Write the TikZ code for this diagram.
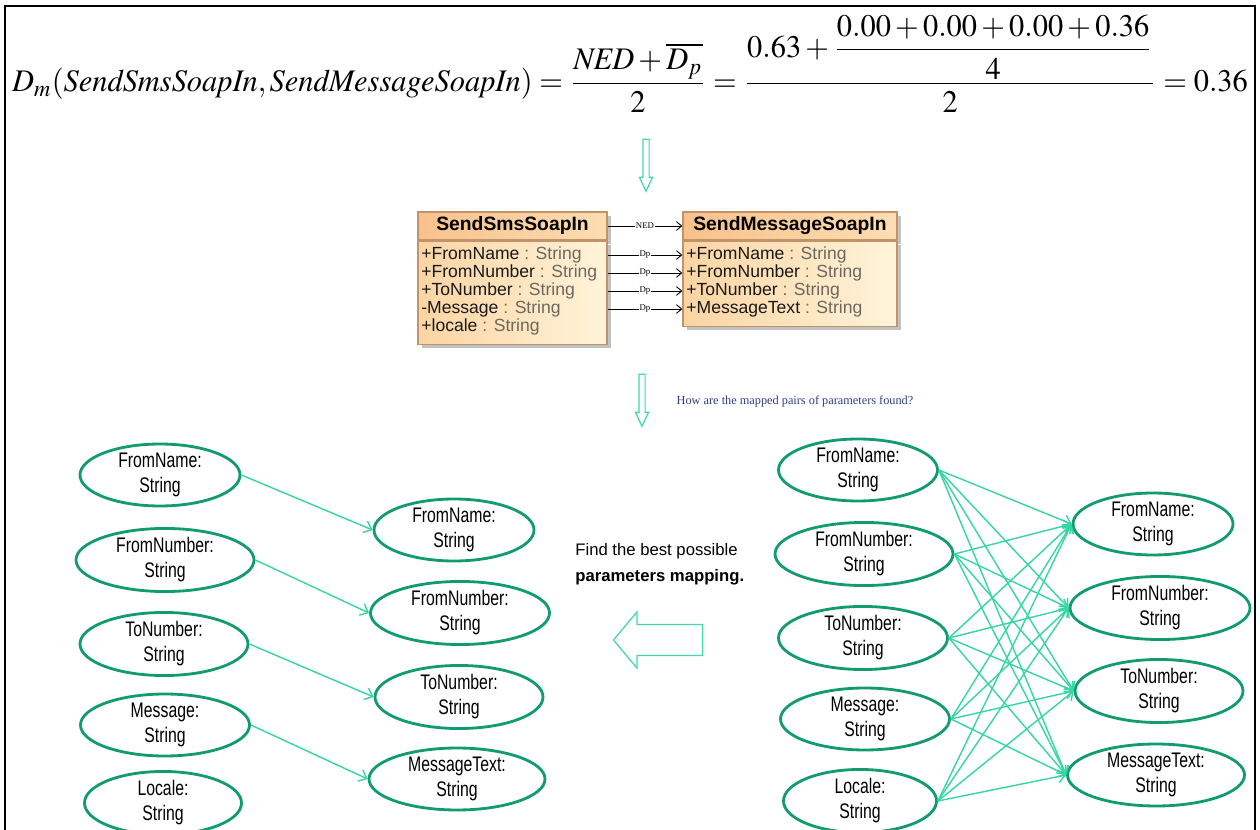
\documentclass[tikz,border=0pt]{standalone}
\usepackage{amsmath}
\usepackage{mathptmx}
\usepackage[no-math]{fontspec}
\usepackage{tikz}
\usetikzlibrary{shapes.geometric,shapes.arrows,shadows,arrows.meta}
\newfontfamily\narrowfont[FakeStretch=0.75]{Liberation Sans}
\newfontfamily\umlfont{Liberation Sans}
\newfontfamily\notefont{Liberation Serif}
\def\px{0.02cm}
\definecolor{paramgreen}{HTML}{129B6F}
\definecolor{mapgreen}{HTML}{35D6A2}
\definecolor{hollowgreen}{HTML}{3FD9A9}
\definecolor{umlborder}{HTML}{C2926A}
\definecolor{umlheadL}{HTML}{F8C18B}
\definecolor{umlheadR}{HTML}{FCDDB2}
\definecolor{umlbodyL}{HTML}{FBD4A2}
\definecolor{umlbodyR}{HTML}{FFF4DA}
\definecolor{umlgray}{HTML}{6E675F}
\definecolor{notecolor}{HTML}{2E3F8A}

\begin{document}
\begin{tikzpicture}[x=\px, y=-\px, >={Straight Barb[length=4pt,width=7pt]}]
    \tikzstyle{param}=[ellipse, draw=paramgreen, line width=1.6pt, minimum height=1.1cm, inner sep=0pt, align=center, font=\narrowfont\fontsize{12}{14.2}\selectfont]
    \tikzstyle{map}=[->, draw=mapgreen, line width=0.8pt]
    \tikzstyle{hollow}=[single arrow, draw=hollowgreen, line width=0.7pt, single arrow head indent=0pt]
    \tikzstyle{umlhead}=[rectangle, draw=umlborder, line width=0.8pt, left color=umlheadL, right color=umlheadR, minimum height=0.56cm, inner sep=0pt, font=\umlfont\bfseries\fontsize{11}{12}\selectfont, drop shadow={shadow xshift=2pt, shadow yshift=-2pt, fill=black!40, opacity=0.6}]
    \tikzstyle{umlbody}=[rectangle, draw=umlborder, line width=0.8pt, left color=umlbodyL, right color=umlbodyR, inner sep=0pt, drop shadow={shadow xshift=2pt, shadow yshift=-2pt, fill=black!40, opacity=0.6}]
    \tikzstyle{member}=[anchor=west, inner sep=0pt, font=\umlfont\fontsize{10}{10}\selectfont, text=black!90]
    \tikzstyle{dep}=[-{Straight Barb[length=3pt,width=5pt]}, line width=0.5pt]
    \tikzstyle{tiny}=[fill=white, inner sep=0.4pt, font=\notefont\fontsize{5}{5}\selectfont]

    \useasboundingbox (0,0) rectangle (1260,830);

    % Frame
    \draw[line width=1.2pt] (5,830) -- (5,6) -- (1255,6) -- (1255,830);

    % The distance formula
    \node[inner sep=0pt] (eq) at (630,64) {\resizebox*{24.72cm}{1.96cm}{$\displaystyle D_m(\mathit{SendSmsSoapIn},\mathit{SendMessageSoapIn})=\frac{\mathit{NED}+\overline{D_p}}{2}=\frac{0.63+\dfrac{0.00+0.00+0.00+0.36}{4}}{2}=0.36$}};

    \node[hollow, shape border rotate=270, minimum height=1.04cm, inner sep=0.05cm, single arrow head extend=0.07cm, single arrow tip angle=50] (down-1) at (646,162) {};

    % Draw the two message types
    \node[umlhead, minimum width=3.78cm] (smshead) at (512.5,226) {SendSmsSoapIn};
    \node[umlbody, minimum width=3.78cm, minimum height=2.06cm, anchor=north] (smsbody) at (smshead.south) {};
    \node[umlhead, minimum width=4.28cm] (msghead) at (790,226) {SendMessageSoapIn};
    \node[umlbody, minimum width=4.28cm, minimum height=1.7cm, anchor=north] (msgbody) at (msghead.south) {};

    \foreach \i / \name / \y in {1/+FromName/255, 2/+FromNumber/273, 3/+ToNumber/291, 4/-Message/309, 5/+locale/327}
        \node[member] (s-\i) at (421,\y) {\name\ \textcolor{umlgray}{: String}};
    \foreach \i / \name / \y in {1/+FromName/255, 2/+FromNumber/273, 3/+ToNumber/291, 4/+MessageText/309}
        \node[member] (m-\i) at (686,\y) {\name\ \textcolor{umlgray}{: String}};

    \draw[dep] (smshead.east) -- node[tiny] {NED} (msghead.west);
    \foreach \i in {1,...,4}
        \draw[dep] (smsbody.east |- m-\i) -- node[tiny] {Dp} (msgbody.west |- m-\i);

    \node[hollow, shape border rotate=270, minimum height=1.04cm, inner sep=0.05cm, single arrow head extend=0.07cm, single arrow tip angle=50] (down-2) at (642,397) {};
    \node[font=\notefont\fontsize{7}{8}\selectfont, text=notecolor] (question) at (795,401) {How are the mapped pairs of parameters found?};

    % Draw the best mapping (left)
    \foreach \name / \txt / \w / \x / \y in {1/FromName/160/160/475, 2/FromNumber/178/165/560, 3/ToNumber/168/164/644, 4/Message/169/165/725, 5/Locale/157/163/803}
        \node[param, minimum width=\w*0.02cm] (L-\name) at (\x,\y) {\txt:\\String};
    \foreach \name / \txt / \w / \x / \y in {1/FromName/160/454/530, 2/FromNumber/179/460/613, 3/ToNumber/168/459/697, 4/MessageText/176/457/779}
        \node[param, minimum width=\w*0.02cm] (M-\name) at (\x,\y) {\txt:\\String};

    \foreach \i in {1,...,4}
        \draw[map] (L-\i.east) -- (M-\i.west);

    \node[anchor=west, align=left, inner sep=0pt, font=\umlfont\fontsize{9.5}{14.7}\selectfont] (hint) at (575,564) {Find the best possible\\\textbf{parameters mapping.}};
    \node[hollow, shape border rotate=180, minimum height=1.78cm, inner sep=0.3cm, single arrow head extend=0.25cm, single arrow tip angle=100] (back) at (664.5,640) {};

    % Draw all candidate pairs (right)
    \foreach \name / \txt / \w / \x / \y in {1/FromName/159/858/470, 2/FromNumber/178/864/554, 3/ToNumber/169/863/638, 4/Message/169/865/719, 5/Locale/153/860/801}
        \node[param, minimum width=\w*0.02cm] (R-\name) at (\x,\y) {\txt:\\String};
    \foreach \name / \txt / \w / \x / \y in {1/FromName/160/1153/524, 2/FromNumber/180/1160/608, 3/ToNumber/168/1159/691, 4/MessageText/177/1156/775}
        \node[param, minimum width=\w*0.02cm] (T-\name) at (\x,\y) {\txt:\\String};

    % Connect every parameter with every parameter
    \foreach \source in {1,...,5}
        \foreach \dest in {1,...,4}
            \path (R-\source.east) edge[map] (T-\dest.west);
\end{tikzpicture}
\end{document}
